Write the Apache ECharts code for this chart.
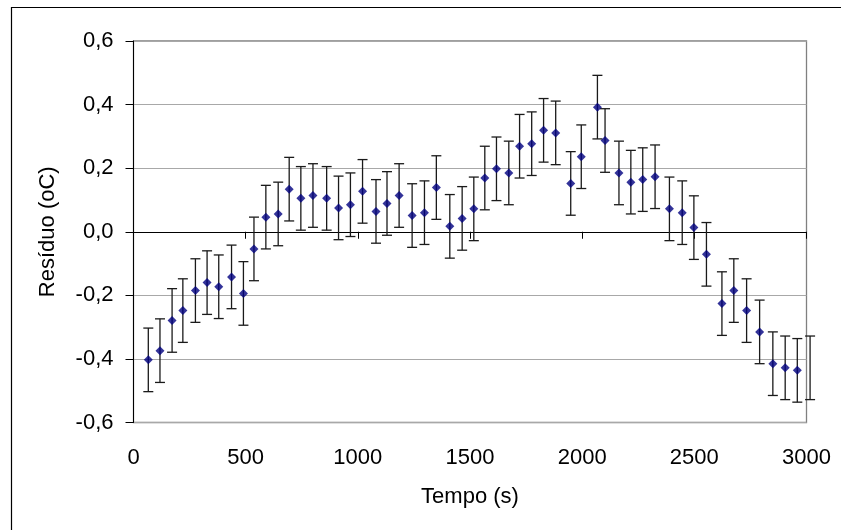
<!DOCTYPE html>
<html>
<head>
<meta charset="utf-8">
<script src="https://cdn.jsdelivr.net/npm/echarts@6/dist/echarts.min.js"></script>
<style>
html, body { margin: 0; padding: 0; background: #ffffff; }
#chart { width: 841px; height: 530px; }
</style>
</head>
<body>
<div id="chart"></div>
<script>
// Time (s) of each measurement
const tempo = [66, 118, 172, 220, 276, 328, 380, 437, 490, 537,
  590, 645, 694, 746, 800, 861, 914, 967, 1021, 1081,
  1130, 1184, 1242, 1297, 1350, 1410, 1465, 1517, 1566, 1618,
  1673, 1721, 1775, 1828, 1882, 1949, 1996, 2068, 2102, 2164,
  2217, 2270, 2325, 2389, 2446, 2498, 2554, 2623, 2676, 2733,
  2791, 2850, 2905, 2959, 3016];
// Residual (oC)
const residuo = [-0.403, -0.374, -0.279, -0.248, -0.185, -0.160, -0.173, -0.142, -0.194, -0.054,
  0.046, 0.056, 0.134, 0.105, 0.114, 0.105, 0.075, 0.085, 0.127, 0.064,
  0.089, 0.114, 0.051, 0.060, 0.139, 0.017, 0.042, 0.072, 0.169, 0.198,
  0.185, 0.269, 0.277, 0.319, 0.311, 0.152, 0.236, 0.392, 0.287, 0.185,
  0.156, 0.164, 0.173, 0.072, 0.060, 0.013, -0.071, -0.226, -0.185, -0.248,
  -0.315, -0.415, -0.428, -0.436, -0.428];
// Error bar half-width (oC), same for every point
const erro = 0.1;
// Axis ticks
const xTicks = { min: 0, max: 3000, interval: 500 };
const yTicks = { min: -0.6, max: 0.6, interval: 0.2 };

const points = tempo.map((t, i) => [t, residuo[i]]);
const bars = tempo.map((t, i) => [t, residuo[i] - erro, residuo[i] + erro]);

const FONT = "'Liberation Sans', Arial, sans-serif";
const FS = 22;
const chart = echarts.init(document.getElementById('chart'), null, { renderer: 'canvas' });

chart.setOption({
  animation: false,
  backgroundColor: '#ffffff',
  graphic: [{
    type: 'rect',
    silent: true,
    shape: { x: 11.5, y: 7.5, width: 900, height: 600 },
    style: { fill: 'none', stroke: '#000000', lineWidth: 1.2 }
  }],
  grid: {
    left: 133.5, right: 34.5, top: 41, bottom: 107.5,
    show: true, borderColor: '#808080', borderWidth: 1.3, backgroundColor: '#ffffff'
  },
  xAxis: [{
    type: 'value', min: xTicks.min, max: xTicks.max, interval: xTicks.interval,
    axisLine: { show: true, onZero: true, lineStyle: { color: '#000000', width: 1 } },
    axisTick: { show: true, length: 7, inside: false, lineStyle: { color: '#000000' } },
    axisLabel: { show: false },
    splitLine: { show: false }
  }, {
    type: 'value', position: 'bottom', min: xTicks.min, max: xTicks.max, interval: xTicks.interval,
    axisLine: { show: false, onZero: false },
    axisTick: { show: false },
    axisLabel: { show: true, margin: 24, color: '#000000', fontSize: FS, fontFamily: FONT,
      formatter: v => String(v) },
    splitLine: { show: false },
    name: 'Tempo (s)', nameLocation: 'middle', nameGap: 63,
    nameTextStyle: { color: '#000000', fontSize: FS, fontFamily: FONT }
  }],
  yAxis: {
    type: 'value', min: yTicks.min, max: yTicks.max, interval: yTicks.interval,
    axisLine: { show: true, onZero: false, lineStyle: { color: '#000000', width: 1 } },
    axisTick: { show: true, length: 8, inside: false, lineStyle: { color: '#000000' } },
    axisLabel: {
      margin: 20, color: '#000000', fontSize: FS, fontFamily: FONT,
      formatter: v => (Math.abs(v) < 1e-9 ? 0 : v).toFixed(1).replace('.', ',')
    },
    splitLine: { show: true, lineStyle: { color: '#a8a8a8', width: 1 } },
    name: 'Resíduo (oC)', nameLocation: 'middle', nameRotate: 90, nameGap: 75,
    nameTextStyle: { color: '#000000', fontSize: FS, fontFamily: FONT }
  },
  series: [{
    type: 'custom',
    xAxisIndex: 0,
    clip: false,
    data: bars,
    renderItem: function (params, api) {
      const x = api.value(0);
      const lo = api.coord([x, api.value(1)]);
      const hi = api.coord([x, api.value(2)]);
      const cap = 5;
      const style = { stroke: '#1a1a1a', lineWidth: 1.3 };
      return {
        type: 'group',
        children: [
          { type: 'line', shape: { x1: lo[0], y1: lo[1], x2: hi[0], y2: hi[1] }, style: style },
          { type: 'line', shape: { x1: lo[0] - cap, y1: lo[1], x2: lo[0] + cap, y2: lo[1] }, style: style },
          { type: 'line', shape: { x1: hi[0] - cap, y1: hi[1], x2: hi[0] + cap, y2: hi[1] }, style: style }
        ]
      };
    },
    z: 2
  }, {
    type: 'scatter',
    xAxisIndex: 0,
    clip: true,
    data: points,
    symbol: 'diamond',
    symbolSize: 9,
    itemStyle: { color: '#000080' },
    z: 3
  }]
});
</script>
</body>
</html>
